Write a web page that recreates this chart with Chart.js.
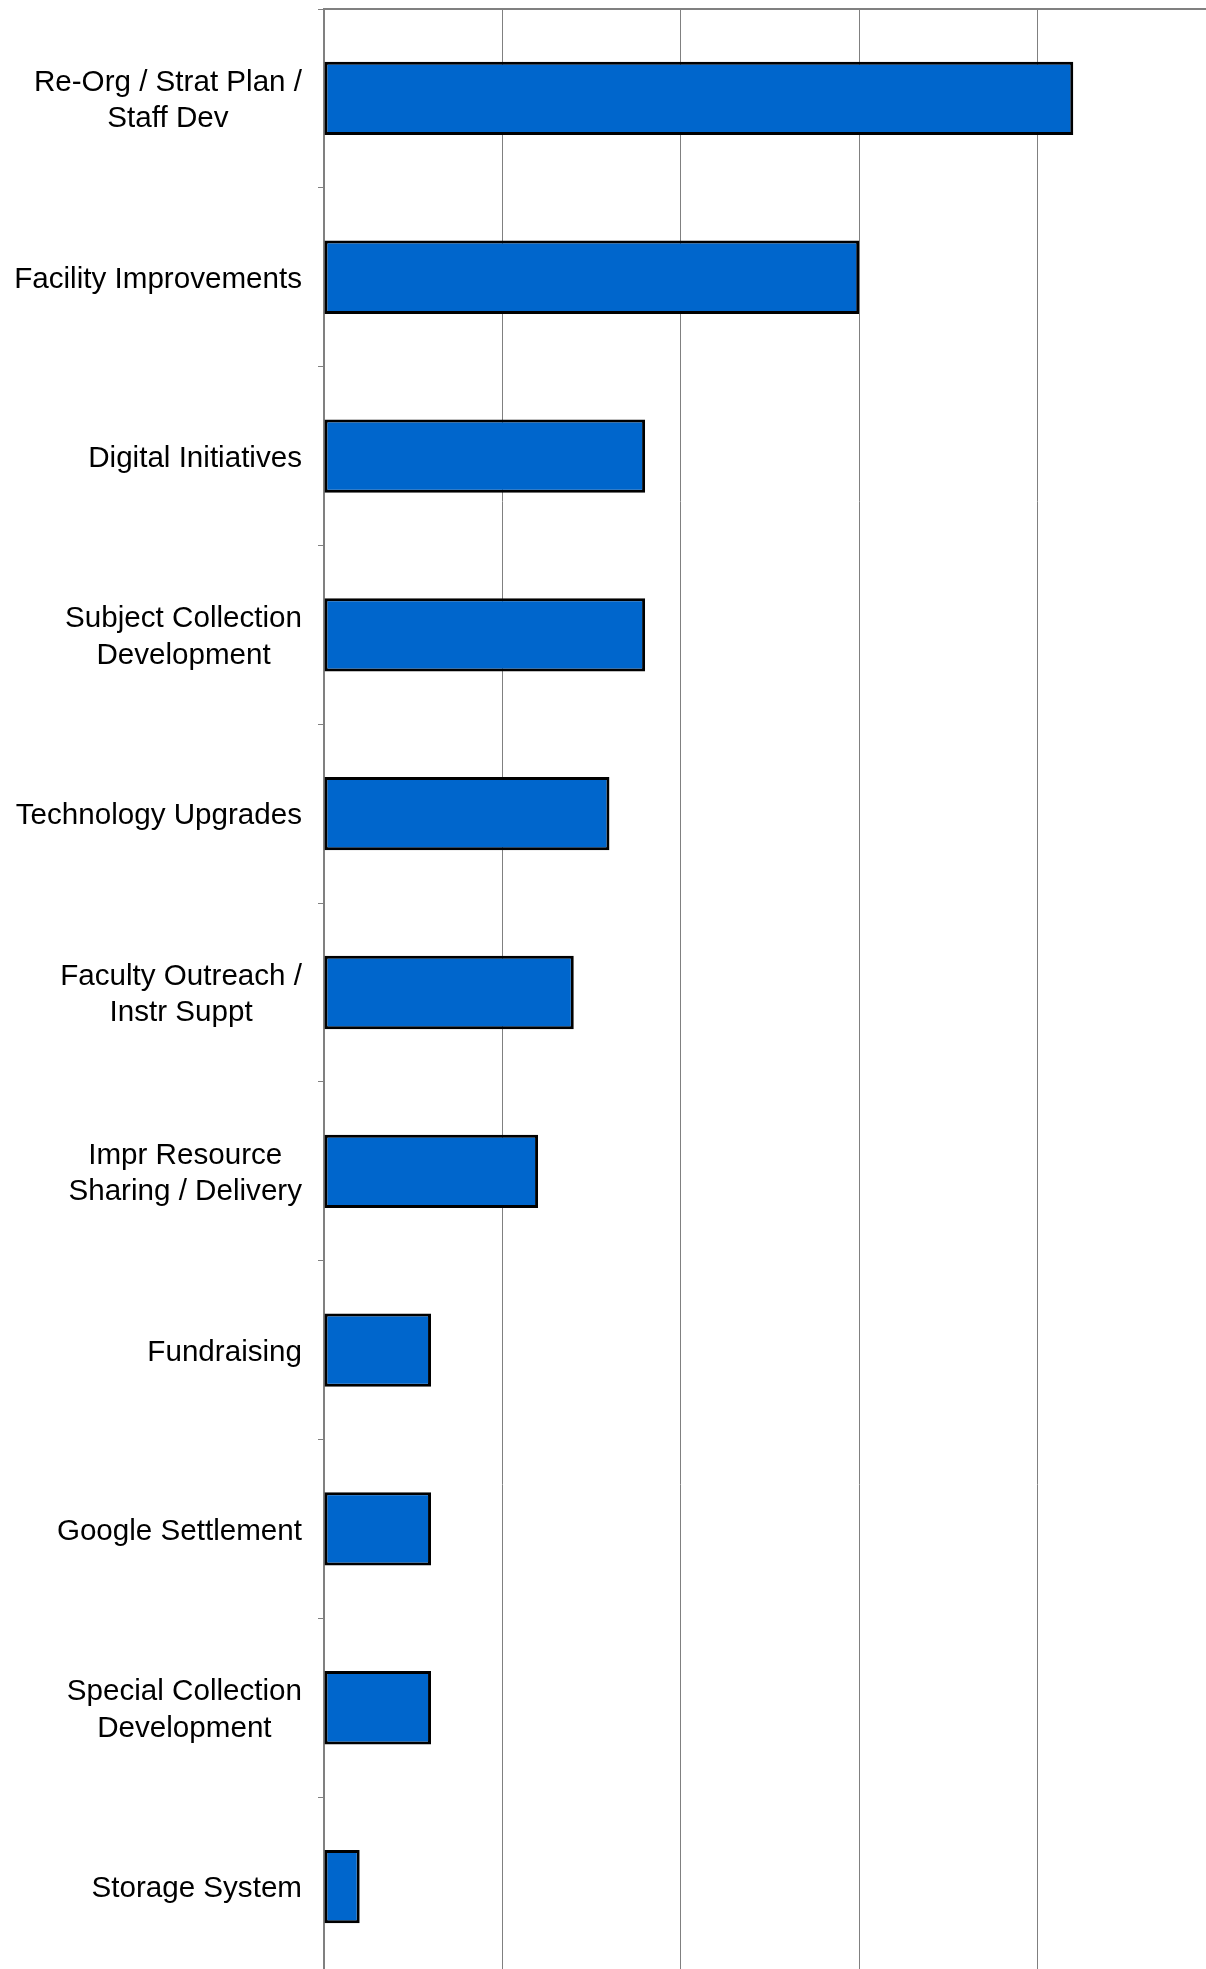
<!DOCTYPE html>
<html>
<head>
<meta charset="utf-8">
<script src="https://cdn.jsdelivr.net/npm/chart.js"></script>
<style>
  html, body { margin: 0; padding: 0; background: #fff; overflow: hidden; }
  #wrap { width: 1220px; height: 1976px; position: relative; }
</style>
</head>
<body>
<div id="wrap"><canvas id="chart"></canvas></div>
<script>
// categories, one array of text lines per bar
const categories = [
  ['Re-Org / Strat Plan /', 'Staff Dev'],
  ['Facility Improvements'],
  ['Digital Initiatives'],
  ['Subject Collection', 'Development'],
  ['Technology Upgrades'],
  ['Faculty Outreach /', 'Instr Suppt'],
  ['Impr Resource', 'Sharing / Delivery'],
  ['Fundraising'],
  ['Google Settlement'],
  ['Special Collection', 'Development'],
  ['Storage System']
];
const values = [21, 15, 9, 9, 8, 7, 6, 3, 3, 3, 1];
const xTicks = [0, 5, 10, 15, 20, 25];

const fontSize = 29.6;
const labelFont = fontSize + 'px "Liberation Sans", Arial, sans-serif';
const lineGap = 36.4;

// draws each label as a right-aligned block with its lines centred inside it
const blockLabels = {
  id: 'blockLabels',
  afterDraw(chart) {
    const scale = chart.scales.y;
    const ctx = chart.ctx;
    const right = scale.right - 22;
    ctx.save();
    ctx.font = labelFont;
    ctx.fillStyle = '#000';
    ctx.textAlign = 'center';
    ctx.textBaseline = 'alphabetic';
    categories.forEach((lines, i) => {
      const y = scale.getPixelForTick(i);
      const w = Math.max(...lines.map(l => ctx.measureText(l).width));
      const cx = right - w / 2;
      const base = y - (lines.length - 1) * lineGap / 2 + fontSize * 0.358;
      lines.forEach((l, j) => ctx.fillText(l, cx, base + j * lineGap));
    });
    ctx.restore();
  }
};

new Chart(document.getElementById('chart'), {
  type: 'bar',
  data: {
    labels: categories,
    datasets: [{
      data: values,
      backgroundColor: '#0066CC',
      borderColor: '#000000',
      borderWidth: 3,
      borderSkipped: false,
      barPercentage: 0.41,
      categoryPercentage: 1
    }]
  },
  options: {
    indexAxis: 'y',
    responsive: true,
    maintainAspectRatio: false,
    animation: false,
    layout: { padding: { top: 9, right: 4, left: 0, bottom: 0 } },
    plugins: { legend: { display: false }, tooltip: { enabled: false } },
    scales: {
      x: {
        type: 'linear',
        position: 'top',
        min: xTicks[0],
        max: xTicks[xTicks.length - 1],
        ticks: { display: false, stepSize: 5 },
        grid: { color: '#808080', lineWidth: 1, drawTicks: false },
        border: { color: '#808080', width: 2 },
        afterFit: (s) => { s.height = 0; }
      },
      y: {
        type: 'category',
        position: 'left',
        offset: true,
        ticks: { display: false },
        grid: { offset: true, drawOnChartArea: false, drawTicks: true, tickLength: 6, color: '#808080' },
        border: { color: '#808080', width: 2 },
        afterFit: (s) => { s.width = 324; }
      }
    }
  },
  plugins: [blockLabels]
});
</script>
</body>
</html>
